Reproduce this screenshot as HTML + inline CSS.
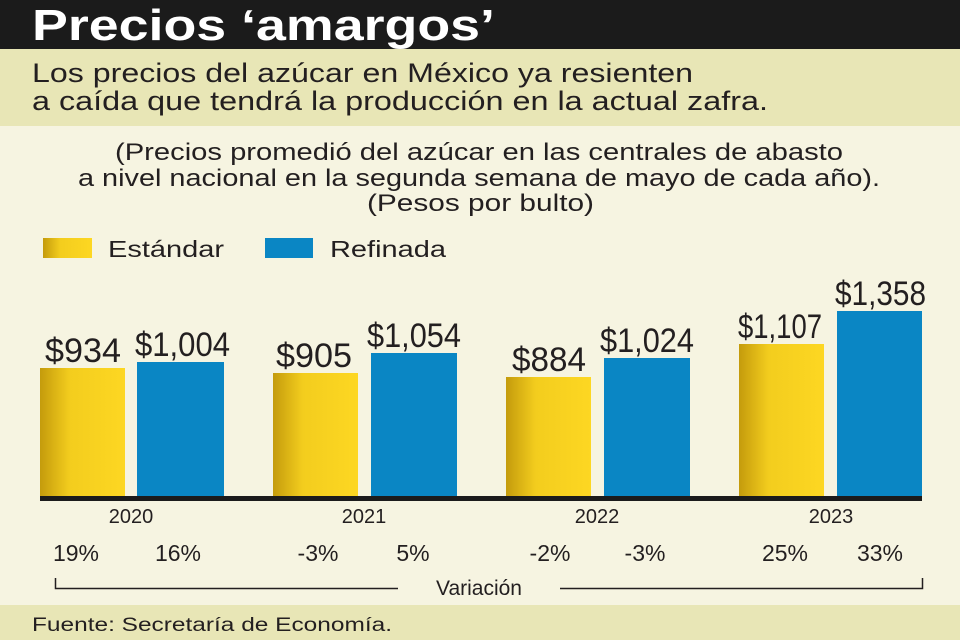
<!DOCTYPE html>
<html><head><meta charset="utf-8"><style>
html,body{margin:0;padding:0;width:960px;height:640px;overflow:hidden;background:#f6f4e0}
svg{display:block}
text{font-family:"Liberation Sans",sans-serif;fill:#231f20}
</style></head><body>
<svg width="960" height="640" viewBox="0 0 960 640" xmlns="http://www.w3.org/2000/svg">
<defs>
<linearGradient id="yg" x1="0" x2="1" y1="0" y2="0">
<stop offset="0" stop-color="#c49b0c"/><stop offset="0.35" stop-color="#f3cd1e"/><stop offset="1" stop-color="#fdd722"/>
</linearGradient>
</defs>
<rect x="0" y="0" width="960" height="49" fill="#1b1b1b"/>
<rect x="0" y="49" width="960" height="77" fill="#e8e6b6"/>
<rect x="0" y="126" width="960" height="479" fill="#f6f4e1"/>
<rect x="0" y="605" width="960" height="35" fill="#e8e6b6"/>
<text x="32" y="40" font-size="44" font-weight="bold" style="fill:#fff" textLength="463" lengthAdjust="spacingAndGlyphs">Precios ‘amargos’</text>
<text x="32" y="82" font-size="27" textLength="661" lengthAdjust="spacingAndGlyphs">Los precios del azúcar en México ya resienten</text>
<text x="32" y="110" font-size="27" textLength="736" lengthAdjust="spacingAndGlyphs">a caída que tendrá la producción en la actual zafra.</text>
<text x="115" y="160" font-size="24" textLength="728" lengthAdjust="spacingAndGlyphs">(Precios promedió del azúcar en las centrales de abasto</text>
<text x="78" y="186" font-size="24" textLength="802" lengthAdjust="spacingAndGlyphs">a nivel nacional en la segunda semana de mayo de cada año).</text>
<text x="367" y="211" font-size="24" textLength="227" lengthAdjust="spacingAndGlyphs">(Pesos por bulto)</text>
<rect x="43" y="238" width="49" height="20" fill="url(#yg)"/>
<text x="108" y="257" font-size="23" textLength="116" lengthAdjust="spacingAndGlyphs">Estándar</text>
<rect x="265" y="238" width="48" height="20" fill="#0a86c4"/>
<text x="330" y="257" font-size="23" textLength="116" lengthAdjust="spacingAndGlyphs">Refinada</text>
<g>
<rect x="40" y="368" width="85" height="130" fill="url(#yg)"/>
<rect x="137" y="362" width="87" height="136" fill="#0a86c4"/>
<rect x="273" y="373" width="85" height="125" fill="url(#yg)"/>
<rect x="371" y="353" width="86" height="145" fill="#0a86c4"/>
<rect x="506" y="377" width="85" height="121" fill="url(#yg)"/>
<rect x="604" y="358" width="86" height="140" fill="#0a86c4"/>
<rect x="739" y="344" width="85" height="154" fill="url(#yg)"/>
<rect x="837" y="311" width="85" height="187" fill="#0a86c4"/>
</g>
<rect x="40" y="496" width="882" height="5" fill="#1b1b1b"/>
<g font-size="34">
<text x="45" y="362" textLength="76" lengthAdjust="spacingAndGlyphs">$934</text>
<text x="135" y="356" textLength="95" lengthAdjust="spacingAndGlyphs">$1,004</text>
<text x="276" y="367" textLength="76" lengthAdjust="spacingAndGlyphs">$905</text>
<text x="367" y="347" textLength="94" lengthAdjust="spacingAndGlyphs">$1,054</text>
<text x="512" y="371" textLength="74" lengthAdjust="spacingAndGlyphs">$884</text>
<text x="600" y="352" textLength="94" lengthAdjust="spacingAndGlyphs">$1,024</text>
<text x="738" y="338" textLength="84" lengthAdjust="spacingAndGlyphs">$1,107</text>
<text x="835" y="305" textLength="91" lengthAdjust="spacingAndGlyphs">$1,358</text>
</g>
<g font-size="20" text-anchor="middle">
<text x="131" y="523">2020</text>
<text x="364" y="523">2021</text>
<text x="597" y="523">2022</text>
<text x="831" y="523">2023</text>
</g>
<g font-size="23" text-anchor="middle">
<text x="76" y="561">19%</text>
<text x="178" y="561">16%</text>
<text x="318" y="561">-3%</text>
<text x="413" y="561">5%</text>
<text x="550" y="561">-2%</text>
<text x="645" y="561">-3%</text>
<text x="785" y="561">25%</text>
<text x="880" y="561">33%</text>
</g>
<path d="M55.5 578 V588.5 H398 M560 588.5 H922.5 V578" fill="none" stroke="#231f20" stroke-width="1.5"/>
<text x="479" y="595" font-size="21" text-anchor="middle">Variación</text>
<text x="32" y="631" font-size="19" textLength="360" lengthAdjust="spacingAndGlyphs">Fuente: Secretaría de Economía.</text>
</svg>
</body></html>
